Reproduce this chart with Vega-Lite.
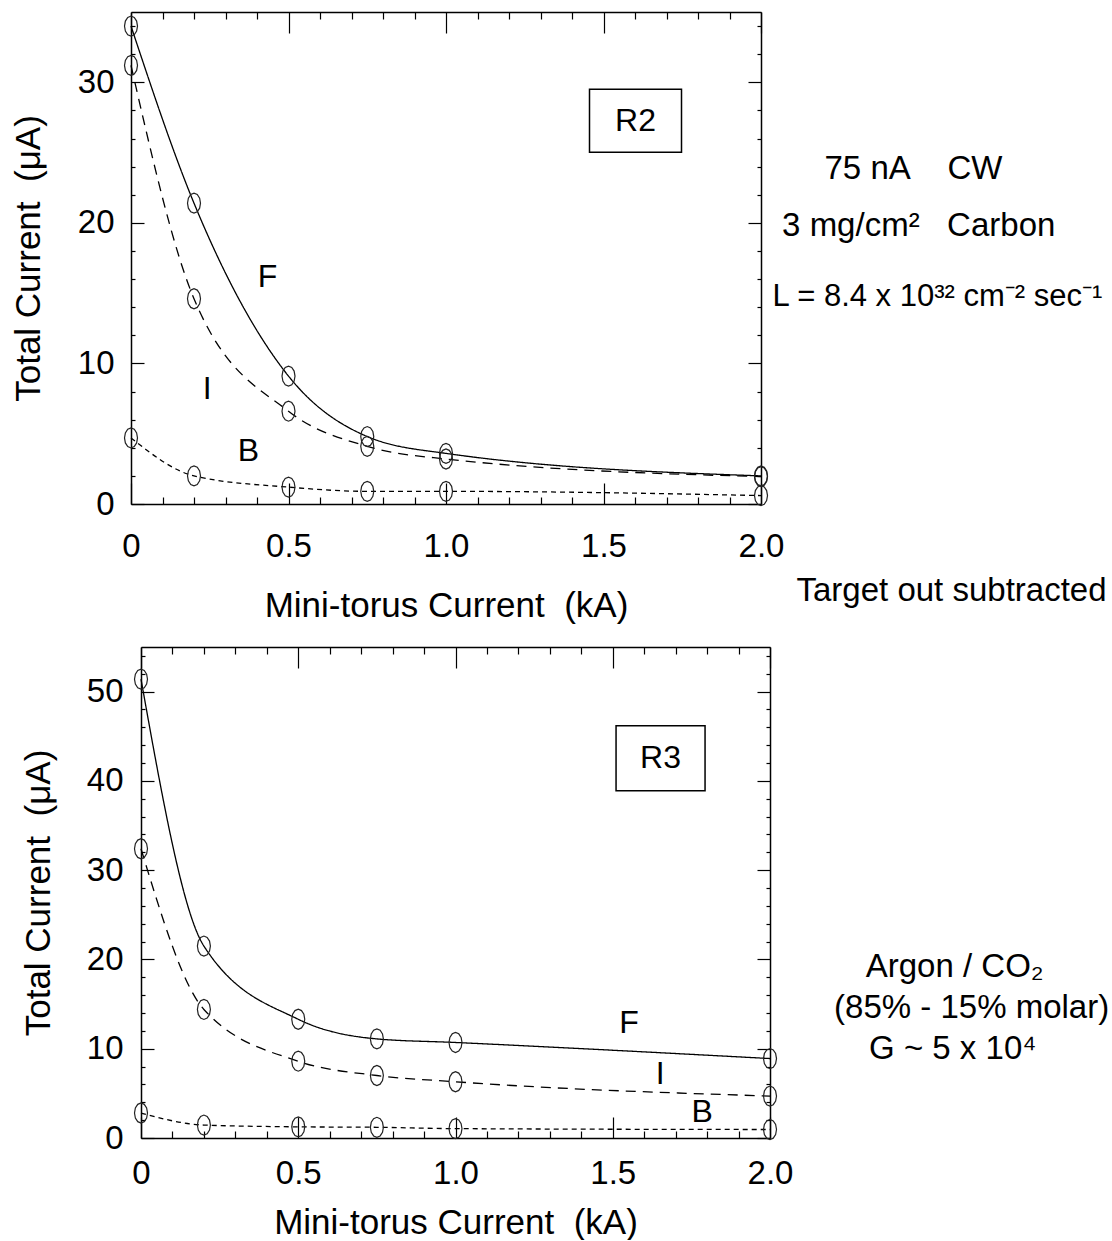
{
  "$schema": "https://vega.github.io/schema/vega-lite/v6.json",
  "padding": {"left": 11, "top": 10, "right": 0, "bottom": 0},
  "config": {
    "font": "Liberation Sans",
    "view": {"stroke": null},
    "axis": {
      "domainColor": "#000", "domainWidth": 1.5, "tickColor": "#000", "tickWidth": 1.2,
      "labelFont": "Liberation Sans", "labelFontSize": 33, "labelColor": "#000",
      "titleFont": "Liberation Sans", "titleFontSize": 35, "titleFontWeight": "normal", "titleColor": "#000",
      "grid": false, "labelFlush": false, "labelOverlap": false, "labelBound": false
    },
    "text": {"font": "Liberation Sans", "fontSize": 33, "color": "#000"}
  },
  "datasets": {
    "top": [
      {"series": "F", "kA": 0, "uA": 34.0}, {"series": "F", "kA": 0.2, "uA": 21.4}, {"series": "F", "kA": 0.5, "uA": 9.1},
      {"series": "F", "kA": 0.75, "uA": 4.8}, {"series": "F", "kA": 1.0, "uA": 3.6}, {"series": "F", "kA": 2.0, "uA": 2.0},
      {"series": "I", "kA": 0, "uA": 31.2}, {"series": "I", "kA": 0.2, "uA": 14.6}, {"series": "I", "kA": 0.5, "uA": 6.6},
      {"series": "I", "kA": 0.75, "uA": 4.1}, {"series": "I", "kA": 1.0, "uA": 3.2}, {"series": "I", "kA": 2.0, "uA": 1.95},
      {"series": "B", "kA": 0, "uA": 4.7}, {"series": "B", "kA": 0.2, "uA": 2.0}, {"series": "B", "kA": 0.5, "uA": 1.2},
      {"series": "B", "kA": 0.75, "uA": 0.9}, {"series": "B", "kA": 1.0, "uA": 0.9}, {"series": "B", "kA": 2.0, "uA": 0.6}
    ],
    "bottom": [
      {"series": "F", "kA": 0, "uA": 51.4}, {"series": "F", "kA": 0.2, "uA": 21.5}, {"series": "F", "kA": 0.5, "uA": 13.3},
      {"series": "F", "kA": 0.75, "uA": 11.1}, {"series": "F", "kA": 1.0, "uA": 10.7}, {"series": "F", "kA": 2.0, "uA": 8.9},
      {"series": "I", "kA": 0, "uA": 32.4}, {"series": "I", "kA": 0.2, "uA": 14.4}, {"series": "I", "kA": 0.5, "uA": 8.6},
      {"series": "I", "kA": 0.75, "uA": 7.0}, {"series": "I", "kA": 1.0, "uA": 6.3}, {"series": "I", "kA": 2.0, "uA": 4.7},
      {"series": "B", "kA": 0, "uA": 2.8}, {"series": "B", "kA": 0.2, "uA": 1.45}, {"series": "B", "kA": 0.5, "uA": 1.25},
      {"series": "B", "kA": 0.75, "uA": 1.2}, {"series": "B", "kA": 1.0, "uA": 1.05}, {"series": "B", "kA": 2.0, "uA": 0.95}
    ],
    "topLabels": [
      {"text": "F", "x": 0.433, "y": 16.17, "kind": "curve"},
      {"text": "I", "x": 0.242, "y": 8.15, "kind": "curve"},
      {"text": "B", "x": 0.373, "y": 3.75, "kind": "curve"},
      {"text": "R2", "x": 1.6016, "y": 27.27, "kind": "panel"}
    ],
    "bottomLabels": [
      {"text": "F", "x": 1.552, "y": 12.9, "kind": "curve"},
      {"text": "I", "x": 1.651, "y": 7.22, "kind": "curve"},
      {"text": "B", "x": 1.784, "y": 2.87, "kind": "curve"},
      {"text": "R3", "x": 1.652, "y": 42.54, "kind": "panel"}
    ],
    "topNotes": [
      {"text": "75 nA\u00a0\u00a0\u00a0\u00a0CW", "x": 2.2016, "y": 23.1},
      {"text": "3 mg/cm²\u00a0\u00a0\u00a0Carbon", "x": 2.067, "y": 19.08},
      {"text": "Target out subtracted", "x": 2.1127, "y": -6.9}
    ],
    "topFormula": [
      {"text": "L = 8.4 x 10³² cm⁻² sec⁻¹", "x": 2.0365, "y": 14.05}
    ],
    "bottomNotes": [
      {"text": "Argon / CO₂", "x": 2.3045, "y": 18.08},
      {"text": "(85% - 15% molar)", "x": 2.2037, "y": 13.4},
      {"text": "G ~ 5 x 10⁴", "x": 2.315, "y": 8.9}
    ]
  },
  "vconcat": [
    {
      "width": 630, "height": 492,
      "layer": [
        {
          "data": {"name": "top"},
          "mark": {"type": "line", "interpolate": "monotone", "color": "#000", "strokeWidth": 1.3},
          "encoding": {
            "x": {"field": "kA", "type": "quantitative", "scale": {"domain": [0, 2], "nice": false, "zero": false},
              "axis": {"orient": "bottom", "values": [0,0.1,0.2,0.3,0.4,0.5,0.6,0.7,0.8,0.9,1.0,1.1,1.2,1.3,1.4,1.5,1.6,1.7,1.8,1.9,2.0],
                "tickSize": {"condition": {"test": "abs(datum.value*2 - round(datum.value*2)) < 0.001", "value": -21}, "value": -7},
                "labelExpr": "abs(datum.value*2 - round(datum.value*2)) < 0.001 ? (datum.value == 0 ? '0' : format(datum.value, '.1f')) : ''",
                "labelPadding": 47, "title": "Mini-torus Current\u00a0\u00a0(kA)", "titlePadding": 11}},
            "y": {"field": "uA", "type": "quantitative", "scale": {"domain": [0, 35], "nice": false},
              "axis": {"orient": "left", "values": [0,2,4,6,8,10,12,14,16,18,20,22,24,26,28,30,32,34],
                "tickSize": {"condition": {"test": "datum.value % 10 == 0", "value": -13}, "value": -4},
                "labelExpr": "datum.value % 10 == 0 ? datum.label : ''",
                "labelPadding": 30, "title": "Total Current\u00a0\u00a0(μA)", "titlePadding": 31}},
            "strokeDash": {"field": "series", "type": "nominal", "scale": {"domain": ["F", "I", "B"], "range": [[1, 0], [10, 7], [5, 4]]}, "legend": null}
          }
        },
        {
          "data": {"name": "top"},
          "mark": {"type": "point", "shape": "M0.65,0L0.563,0.5L0.325,0.866L0,1L-0.325,0.866L-0.563,0.5L-0.65,0L-0.563,-0.5L-0.325,-0.866L0,-1L0.325,-0.866L0.563,-0.5Z", "size": 400, "filled": false, "color": "#222", "strokeWidth": 1.2, "opacity": 1},
          "encoding": {
            "x": {"field": "kA", "type": "quantitative",
              "axis": {"orient": "top", "values": [0,0.1,0.2,0.3,0.4,0.5,0.6,0.7,0.8,0.9,1.0,1.1,1.2,1.3,1.4,1.5,1.6,1.7,1.8,1.9,2.0],
                "tickSize": {"condition": {"test": "abs(datum.value*2 - round(datum.value*2)) < 0.001", "value": -21}, "value": -7},
                "labels": false, "title": null}},
            "y": {"field": "uA", "type": "quantitative",
              "axis": {"orient": "right", "values": [0,2,4,6,8,10,12,14,16,18,20,22,24,26,28,30,32,34],
                "tickSize": {"condition": {"test": "datum.value % 10 == 0", "value": -13}, "value": -4},
                "labels": false, "title": null}}
          }
        },
        {
          "data": {"name": "topLabels"},
          "mark": {"type": "text", "align": "center", "baseline": "middle", "fontSize": 32},
          "encoding": {
            "x": {"field": "x", "type": "quantitative", "axis": null},
            "y": {"field": "y", "type": "quantitative", "axis": null},
            "text": {"field": "text"}
          }
        },
        {
          "data": {"name": "topLabels"},
          "transform": [{"filter": "datum.kind == 'panel'"}],
          "mark": {"type": "point", "shape": "M-1,-0.685L1,-0.685L1,0.685L-1,0.685Z", "size": 8464, "filled": false, "color": "#000", "strokeWidth": 1.5, "opacity": 1},
          "encoding": {
            "x": {"field": "x", "type": "quantitative", "axis": null},
            "y": {"field": "y", "type": "quantitative", "axis": null}
          }
        },
        {
          "data": {"name": "topNotes"},
          "mark": {"type": "text", "align": "left", "baseline": "alphabetic", "fontSize": 33},
          "encoding": {
            "x": {"field": "x", "type": "quantitative", "axis": null},
            "y": {"field": "y", "type": "quantitative", "axis": null},
            "text": {"field": "text"}
          }
        },
        {
          "data": {"name": "topFormula"},
          "mark": {"type": "text", "align": "left", "baseline": "alphabetic", "fontSize": 31},
          "encoding": {
            "x": {"field": "x", "type": "quantitative", "axis": null},
            "y": {"field": "y", "type": "quantitative", "axis": null},
            "text": {"field": "text"}
          }
        }
      ],
      "resolve": {"axis": {"x": "independent", "y": "independent"}}
    },
    {
      "width": 639, "height": 491,
      "layer": [
        {
          "data": {"name": "bottom"},
          "mark": {"type": "line", "interpolate": "monotone", "color": "#000", "strokeWidth": 1.3},
          "encoding": {
            "x": {"field": "kA", "type": "quantitative", "scale": {"domain": [0, 2], "range": [10, 639], "nice": false, "zero": false},
              "axis": {"orient": "bottom", "values": [0,0.1,0.2,0.3,0.4,0.5,0.6,0.7,0.8,0.9,1.0,1.1,1.2,1.3,1.4,1.5,1.6,1.7,1.8,1.9,2.0],
                "tickSize": {"condition": {"test": "abs(datum.value*2 - round(datum.value*2)) < 0.001", "value": -21}, "value": -7},
                "labelExpr": "abs(datum.value*2 - round(datum.value*2)) < 0.001 ? (datum.value == 0 ? '0' : format(datum.value, '.1f')) : ''",
                "labelPadding": 40, "title": "Mini-torus Current\u00a0\u00a0(kA)", "titlePadding": 1}},
            "y": {"field": "uA", "type": "quantitative", "scale": {"domain": [0, 55], "nice": false},
              "axis": {"orient": "left", "offset": -10, "values": [0,2,4,6,8,10,12,14,16,18,20,22,24,26,28,30,32,34,36,38,40,42,44,46,48,50,52,54],
                "tickSize": {"condition": {"test": "datum.value % 10 == 0", "value": -13}, "value": -4},
                "labelExpr": "datum.value % 10 == 0 ? datum.label : ''",
                "labelPadding": 31, "title": "Total Current\u00a0\u00a0(μA)", "titlePadding": 30}},
            "strokeDash": {"field": "series", "type": "nominal", "scale": {"domain": ["F", "I", "B"], "range": [[1, 0], [10, 7], [5, 4]]}, "legend": null}
          }
        },
        {
          "data": {"name": "bottom"},
          "mark": {"type": "point", "shape": "M0.65,0L0.563,0.5L0.325,0.866L0,1L-0.325,0.866L-0.563,0.5L-0.65,0L-0.563,-0.5L-0.325,-0.866L0,-1L0.325,-0.866L0.563,-0.5Z", "size": 400, "filled": false, "color": "#222", "strokeWidth": 1.2, "opacity": 1},
          "encoding": {
            "x": {"field": "kA", "type": "quantitative",
              "axis": {"orient": "top", "values": [0,0.1,0.2,0.3,0.4,0.5,0.6,0.7,0.8,0.9,1.0,1.1,1.2,1.3,1.4,1.5,1.6,1.7,1.8,1.9,2.0],
                "tickSize": {"condition": {"test": "abs(datum.value*2 - round(datum.value*2)) < 0.001", "value": -21}, "value": -7},
                "labels": false, "title": null}},
            "y": {"field": "uA", "type": "quantitative",
              "axis": {"orient": "right", "values": [0,2,4,6,8,10,12,14,16,18,20,22,24,26,28,30,32,34,36,38,40,42,44,46,48,50,52,54],
                "tickSize": {"condition": {"test": "datum.value % 10 == 0", "value": -13}, "value": -4},
                "labels": false, "title": null}}
          }
        },
        {
          "data": {"name": "bottomLabels"},
          "mark": {"type": "text", "align": "center", "baseline": "middle", "fontSize": 32},
          "encoding": {
            "x": {"field": "x", "type": "quantitative", "axis": null},
            "y": {"field": "y", "type": "quantitative", "axis": null},
            "text": {"field": "text"}
          }
        },
        {
          "data": {"name": "bottomLabels"},
          "transform": [{"filter": "datum.kind == 'panel'"}],
          "mark": {"type": "point", "shape": "M-1,-0.73L1,-0.73L1,0.73L-1,0.73Z", "size": 7921, "filled": false, "color": "#000", "strokeWidth": 1.5, "opacity": 1},
          "encoding": {
            "x": {"field": "x", "type": "quantitative", "axis": null},
            "y": {"field": "y", "type": "quantitative", "axis": null}
          }
        },
        {
          "data": {"name": "bottomNotes"},
          "mark": {"type": "text", "align": "left", "baseline": "alphabetic", "fontSize": 33},
          "encoding": {
            "x": {"field": "x", "type": "quantitative", "axis": null},
            "y": {"field": "y", "type": "quantitative", "axis": null},
            "text": {"field": "text"}
          }
        }
      ],
      "resolve": {"axis": {"x": "independent", "y": "independent"}}
    }
  ],
  "spacing": 16
}
